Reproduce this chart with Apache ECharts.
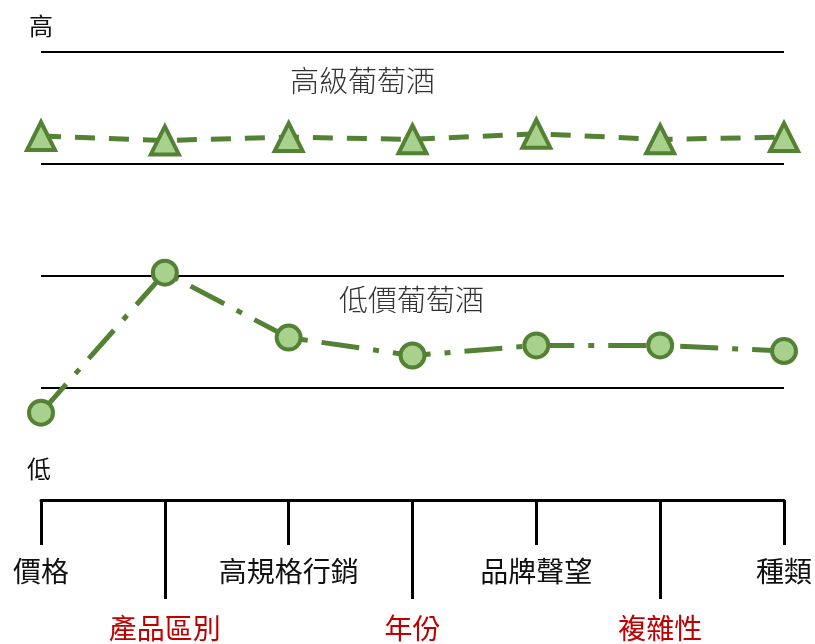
<!DOCTYPE html>
<html>
<head>
<meta charset="utf-8">
<script src="https://cdn.jsdelivr.net/npm/echarts@6/dist/echarts.min.js"></script>
<style>
  html, body { margin: 0; padding: 0; background: #fff; }
  #chart { width: 815px; height: 644px; }
</style>
</head>
<body>
<div id="chart"></div>
<script>
// Strategy canvas: wine industry value factors
const factors = ['價格', '產品區別', '高規格行銷', '年份', '品牌聲望', '複雜性', '種類'];
const premiumWine = [3.25, 3.21, 3.24, 3.22, 3.27, 3.22, 3.24];
const budgetWine = [0.78, 2.03, 1.45, 1.29, 1.38, 1.38, 1.33];
const premiumName = '高級葡萄酒';
const budgetName = '低價葡萄酒';
const highLabel = '高';
const lowLabel = '低';

const FONT = '"Noto Sans CJK TC", "Noto Sans CJK SC", sans-serif';
const LINE = '#548235';
const FILL = '#a9d18e';

const chart = echarts.init(document.getElementById('chart'));
chart.setOption({
  animation: false,
  backgroundColor: '#fff',
  grid: { left: 41, right: 22, top: 52, bottom: 144, containLabel: false },
  xAxis: [
    {
      type: 'category', data: factors, boundaryGap: false, position: 'bottom', offset: 0,
      axisLine: { lineStyle: { color: '#000', width: 3 } },
      axisTick: { length: 45, lineStyle: { color: '#000', width: 3 },
                  interval: (i) => i % 2 === 0 },
      axisLabel: { interval: (i) => i % 2 === 0, margin: 57, fontSize: 28,
                   fontFamily: FONT, color: '#111' },
      splitLine: { show: false }
    },
    {
      type: 'category', data: factors, boundaryGap: false, position: 'bottom', offset: 0,
      axisLine: { show: false },
      axisTick: { length: 99, lineStyle: { color: '#000', width: 3 },
                  interval: (i) => i % 2 === 1 },
      axisLabel: { interval: (i) => i % 2 === 1, margin: 114, fontSize: 28,
                   fontFamily: FONT, color: '#c00000' },
      splitLine: { show: false }
    }
  ],
  yAxis: {
    type: 'value', min: 0, max: 4, interval: 1,
    axisLine: { show: false }, axisTick: { show: false }, axisLabel: { show: false },
    splitLine: { show: true, lineStyle: { color: '#000', width: 2 } }
  },
  graphic: [
    { type: 'text', left: 29, top: 14, style: { text: highLabel, fontSize: 24, fontFamily: FONT, fill: '#111' } },
    { type: 'text', left: 27, top: 457, style: { text: lowLabel, fontSize: 24, fontFamily: FONT, fill: '#111' } },
    { type: 'text', left: 290, top: 66, style: { text: premiumName, fontSize: 29, fontFamily: FONT, fontWeight: 300, fill: '#333' } },
    { type: 'text', left: 339, top: 285, style: { text: budgetName, fontSize: 29, fontFamily: FONT, fontWeight: 300, fill: '#333' } }
  ],
  series: [
    {
      name: premiumName, type: 'line', data: premiumWine,
      symbol: 'triangle', symbolSize: 28,
      lineStyle: { color: LINE, width: 5, type: [20, 14] },
      itemStyle: { color: FILL, borderColor: LINE, borderWidth: 4 },
      z: 3
    },
    {
      name: budgetName, type: 'line', data: budgetWine,
      symbol: 'circle', symbolSize: 24,
      lineStyle: { color: LINE, width: 5, type: [38, 14, 6, 14] },
      itemStyle: { color: FILL, borderColor: LINE, borderWidth: 4 },
      z: 3
    }
  ]
});
</script>
</body>
</html>
